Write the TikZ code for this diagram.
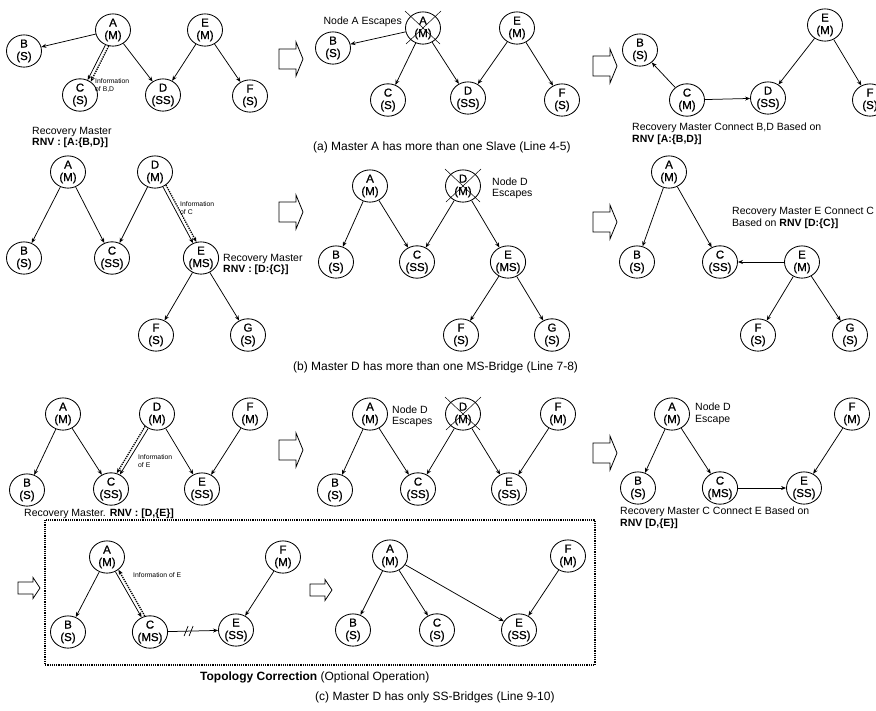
\documentclass[tikz,border=0pt]{standalone}
\usepackage{fontspec}
\setmainfont{Liberation Sans}
\newfontfamily\nodefont{Liberation Sans}[FakeBold=0.8]
\usetikzlibrary{arrows.meta,shapes.geometric,calc}

\tikzset{
  nd/.style={ellipse,draw,line width=0.85pt,minimum width=35pt,minimum height=32pt,
    inner sep=0pt,align=center,font=\nodefont\fontsize{11.5}{12.5}\selectfont},
  lnk/.style={-{Stealth[length=5pt,width=4pt]},line width=0.75pt},
  infolink/.style={-{Stealth[length=5pt,width=4pt]},line width=1.3pt,densely dotted},
  notetxt/.style={font=\fontsize{10.5}{11.5}\selectfont,anchor=west,inner sep=0pt,align=left},
  tinytxt/.style={font=\fontsize{6.8}{8}\selectfont,anchor=west,inner sep=0pt,align=left},
  captxt/.style={font=\fontsize{12}{14}\selectfont,anchor=west,inner sep=0pt},
  bigarrow/.pic={\draw[line width=0.8pt,fill=white]
    (-12,-10) -- (5,-10) -- (5,-17) -- (12,0) -- (5,17) -- (5,10) -- (-12,10) -- cycle;},
  smallarrow/.pic={\draw[line width=0.8pt,fill=white]
    (-11,-6) -- (4,-6) -- (4,-10.5) -- (11,0) -- (4,10.5) -- (4,6) -- (-11,6) -- cycle;}
}
% cross drawn over a node that has escaped
\newcommand\escapemark[1]{%
  \draw[line width=0.5pt] ($(#1)+(-18,-17)$) -- ($(#1)+(17,16)$)
                          ($(#1)+(18,-17)$) -- ($(#1)+(-17,16)$);}

\begin{document}
\begin{tikzpicture}[x=1pt,y=-1pt]
\useasboundingbox (0,0) rectangle (876,710);
\clip (0,0) rectangle (876,710);

% ---------------- (a) ----------------
% panel 1
\node[nd] (a1A) at (113,30) {A\\(M)};
\node[nd] (a1B) at (24,51) {B\\(S)};
\node[nd] (a1C) at (80,95) {C\\(S)};
\node[nd] (a1D) at (163,95) {D\\(SS)};
\node[nd] (a1E) at (205,30) {E\\(M)};
\node[nd] (a1F) at (250,96) {F\\(S)};
\draw[lnk] (a1A) -- (a1B);
\draw[lnk] (a1A) -- (a1C);
\draw[lnk] (a1A) -- (a1D);
\draw[lnk] (a1E) -- (a1D);
\draw[lnk] (a1E) -- (a1F);
\draw[infolink] (a1A.255) -- (a1C.51);
\node[tinytxt] (a1inf) at (95,85) {Information\\of B,D};
\node[notetxt] (a1rm) at (32,137.5) {Recovery Master\\\textbf{RNV : [A:\{B,D\}]}};
\pic at (291,59) {bigarrow};

% panel 2
\node[nd] (a2A) at (423,28) {A\\(M)};
\node[nd] (a2B) at (333,48) {B\\(S)};
\node[nd] (a2C) at (388,100) {C\\(S)};
\node[nd] (a2D) at (468,98) {D\\(SS)};
\node[nd] (a2E) at (517,28) {E\\(M)};
\node[nd] (a2F) at (562,100) {F\\(S)};
\escapemark{a2A}
\draw[lnk] (a2A) -- (a2B);
\draw[lnk] (a2A) -- (a2C);
\draw[lnk] (a2A) -- (a2D);
\draw[lnk] (a2E) -- (a2D);
\draw[lnk] (a2E) -- (a2F);
\node[notetxt,anchor=east] (a2esc) at (402,22) {Node A Escapes};
\pic at (605,66) {bigarrow};

% panel 3
\node[nd] (a3B) at (640,50) {B\\(S)};
\node[nd] (a3C) at (687,100) {C\\(M)};
\node[nd] (a3D) at (768,98) {D\\(SS)};
\node[nd] (a3E) at (825,25) {E\\(M)};
\node[nd] (a3F) at (870,100) {F\\(S)};
\draw[lnk] (a3C) -- (a3B);
\draw[lnk] (a3C) -- (a3D);
\draw[lnk] (a3E) -- (a3D);
\draw[lnk] (a3E) -- (a3F);
\node[notetxt] (a3rm) at (632,134) {Recovery Master Connect B,D Based on\\\textbf{RNV [A:\{B,D\}]}};

\node[captxt] (capa) at (313,147) {(a) Master A has more than one Slave (Line 4-5)};

% ---------------- (b) ----------------
% panel 1
\node[nd] (b1A) at (68,172) {A\\(M)};
\node[nd] (b1D) at (155,172) {D\\(M)};
\node[nd] (b1B) at (24,258) {B\\(S)};
\node[nd] (b1C) at (112,258) {C\\(SS)};
\node[nd] (b1E) at (201,258) {E\\(MS)};
\node[nd] (b1F) at (156,335) {F\\(S)};
\node[nd] (b1G) at (248,335) {G\\(S)};
\draw[lnk] (b1A) -- (b1B);
\draw[lnk] (b1A) -- (b1C);
\draw[lnk] (b1D) -- (b1C);
\draw[lnk] (b1D) -- (b1E);
\draw[lnk] (b1E) -- (b1F);
\draw[lnk] (b1E) -- (b1G);
\draw[infolink] (b1D.310) -- (b1E.106);
\node[tinytxt] (b1inf) at (180,208) {Information\\of C};
\node[notetxt] (b1rm) at (223,264.5) {Recovery Master\\\textbf{RNV : [D:\{C\}]}};
\pic at (291,212) {bigarrow};

% panel 2
\node[nd] (b2A) at (370,186) {A\\(M)};
\node[nd] (b2D) at (463,186) {D\\(M)};
\node[nd] (b2B) at (336,262) {B\\(S)};
\node[nd] (b2C) at (417,262) {C\\(SS)};
\node[nd] (b2E) at (508,262) {E\\(MS)};
\node[nd] (b2F) at (461,335) {F\\(S)};
\node[nd] (b2G) at (552,335) {G\\(S)};
\escapemark{b2D}
\draw[lnk] (b2A) -- (b2B);
\draw[lnk] (b2A) -- (b2C);
\draw[lnk] (b2D) -- (b2C);
\draw[lnk] (b2D) -- (b2E);
\draw[lnk] (b2E) -- (b2F);
\draw[lnk] (b2E) -- (b2G);
\node[notetxt] (b2esc) at (492,188.5) {Node D\\Escapes};
\pic at (605,222) {bigarrow};

% panel 3
\node[nd] (b3A) at (669,172) {A\\(M)};
\node[nd] (b3B) at (637,262) {B\\(S)};
\node[nd] (b3C) at (720,262) {C\\(SS)};
\node[nd] (b3E) at (802,262) {E\\(M)};
\node[nd] (b3F) at (758,335) {F\\(S)};
\node[nd] (b3G) at (850,335) {G\\(S)};
\draw[lnk] (b3A) -- (b3B);
\draw[lnk] (b3A) -- (b3C);
\draw[lnk] (b3E) -- (b3C);
\draw[lnk] (b3E) -- (b3F);
\draw[lnk] (b3E) -- (b3G);
\node[notetxt] (b3rm) at (732,218) {Recovery Master E Connect C\\Based on \textbf{RNV [D:\{C\}]}};

\node[captxt] (capb) at (293,367) {(b) Master D has more than one MS-Bridge (Line 7-8)};

% ---------------- (c) ----------------
% panel 1
\node[nd] (c1A) at (63,414) {A\\(M)};
\node[nd] (c1D) at (157,414) {D\\(M)};
\node[nd] (c1F) at (250,414) {F\\(M)};
\node[nd] (c1B) at (27,490) {B\\(S)};
\node[nd] (c1C) at (111,489) {C\\(SS)};
\node[nd] (c1E) at (202,489) {E\\(SS)};
\draw[lnk] (c1A) -- (c1B);
\draw[lnk] (c1A) -- (c1C);
\draw[lnk] (c1D) -- (c1C);
\draw[lnk] (c1D) -- (c1E);
\draw[lnk] (c1F) -- (c1E);
\draw[infolink] (c1D.226) -- (c1C.70);
\node[tinytxt] (c1inf) at (138,461.5) {Information\\of E};
\node[notetxt] (c1rm) at (24,514) {Recovery Master. \textbf{RNV : [D,\{E\}]}};
\pic at (291,450) {bigarrow};

% panel 2
\node[nd] (c2A) at (370,414) {A\\(M)};
\node[nd] (c2D) at (463,414) {D\\(M)};
\node[nd] (c2F) at (558,414) {F\\(M)};
\node[nd] (c2B) at (335,490) {B\\(S)};
\node[nd] (c2C) at (418,489) {C\\(SS)};
\node[nd] (c2E) at (509,489) {E\\(SS)};
\escapemark{c2D}
\draw[lnk] (c2A) -- (c2B);
\draw[lnk] (c2A) -- (c2C);
\draw[lnk] (c2D) -- (c2C);
\draw[lnk] (c2D) -- (c2E);
\draw[lnk] (c2F) -- (c2E);
\node[notetxt] (c2esc) at (392,416.5) {Node D\\Escapes};
\pic at (605,453) {bigarrow};

% panel 3
\node[nd] (c3A) at (672,414) {A\\(M)};
\node[nd] (c3F) at (852,414) {F\\(M)};
\node[nd] (c3B) at (638,488) {B\\(S)};
\node[nd] (c3C) at (720,488) {C\\(MS)};
\node[nd] (c3E) at (804,488) {E\\(SS)};
\draw[lnk] (c3A) -- (c3B);
\draw[lnk] (c3A) -- (c3C);
\draw[lnk] (c3C) -- (c3E);
\draw[lnk] (c3F) -- (c3E);
\node[notetxt] (c3esc) at (695,414) {Node D\\Escape};
\node[notetxt] (c3rm) at (620,518) {Recovery Master C Connect E Based on\\\textbf{RNV [D,\{E\}]}};

% topology correction box
\draw[line width=1.2pt,densely dotted] (45,520) rectangle (595,665);
\pic at (29,588) {smallarrow};
\node[nd] (d1A) at (107,557) {A\\(M)};
\node[nd] (d1F) at (283,557) {F\\(M)};
\node[nd] (d1B) at (68,632) {B\\(S)};
\node[nd] (d1C) at (150,632) {C\\(MS)};
\node[nd] (d1E) at (236,630) {E\\(SS)};
\draw[lnk] (d1A) -- (d1B);
\draw[lnk] (d1A) -- (d1C);
\draw[lnk] (d1F) -- (d1E);
\draw[lnk] (d1C) -- (d1E) coordinate[pos=0.42] (brk);
\draw[line width=0.7pt] ($(brk)+(-5,5)$) -- ($(brk)+(-1,-5)$)
                        ($(brk)+(0,5)$) -- ($(brk)+(4,-5)$);
\draw[infolink] (d1C.108) -- (d1A.312);
\node[tinytxt] (d1inf) at (133,575) {Information of E};

\pic at (321,590) {smallarrow};
\node[nd] (d2A) at (390,556) {A\\(M)};
\node[nd] (d2F) at (568,556) {F\\(M)};
\node[nd] (d2B) at (353,630) {B\\(S)};
\node[nd] (d2C) at (437,630) {C\\(S)};
\node[nd] (d2E) at (519,630) {E\\(SS)};
\draw[lnk] (d2A) -- (d2B);
\draw[lnk] (d2A) -- (d2C);
\draw[lnk] (d2A) -- (d2E);
\draw[lnk] (d2F) -- (d2E);

\node[captxt] (captc) at (200,677) {\textbf{Topology Correction} (Optional Operation)};
\node[captxt] (capc) at (315,697) {(c) Master D has only SS-Bridges (Line 9-10)};
\end{tikzpicture}
\end{document}
